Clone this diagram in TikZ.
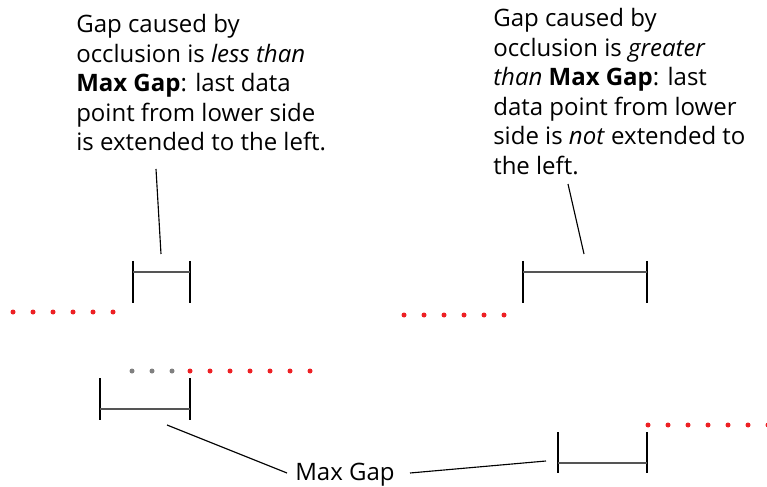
\documentclass[tikz,border=0pt]{standalone}
\usepackage{fontspec}
\setmainfont{Open Sans}
\usepackage{xcolor}
\definecolor{dotred}{RGB}{237,32,36}
\definecolor{dotgray}{RGB}{128,128,128}
\definecolor{bargray}{RGB}{85,85,85}
\usetikzlibrary{positioning}

\tikzset{
  labeltext/.style={font=\fontsize{17.07}{21}\selectfont, anchor=base west, inner sep=0pt},
  gaptick/.style={black, line width=0.9pt},
  gapbar/.style={bargray, line width=1.4pt},
  leader/.style={black, line width=0.8pt},
  reddot/.style={fill=dotred, draw=none},
  graydot/.style={fill=dotgray, draw=none}
}

\begin{document}
\begin{tikzpicture}
  \useasboundingbox (0,0) rectangle (19.175,12.15);

  % Left caption: gap smaller than Max Gap
  \node[labeltext] (lefta) at (1.9,11.325) {Gap caused by};
  \node[labeltext] (leftb) at (1.9,10.5875) {occlusion is \textit{less than}};
  \node[labeltext] (leftc) at (1.9,9.85) {\textbf{Max Gap}: last data};
  \node[labeltext] (leftd) at (1.9,9.1125) {point from lower side};
  \node[labeltext] (lefte) at (1.9,8.375) {is extended to the left.};

  % Right caption: gap greater than Max Gap
  \node[labeltext] (righta) at (12.325,11.475) {Gap caused by};
  \node[labeltext] (rightb) at (12.325,10.7375) {occlusion is \textit{greater}};
  \node[labeltext] (rightc) at (12.325,10.0) {\textit{than} \textbf{Max Gap}: last};
  \node[labeltext] (rightd) at (12.325,9.2625) {data point from lower};
  \node[labeltext] (righte) at (12.325,8.525) {side is \textit{not} extended to};
  \node[labeltext] (rightf) at (12.325,7.7875) {the left.};

  % Bottom label
  \node[labeltext] (maxgap) at (7.375,0.15) {Max Gap};

  % Occlusion gap, left (short)
  \draw[gaptick] (3.325,5.625) -- (3.325,4.575);
  \draw[gaptick] (4.75,5.625) -- (4.75,4.575);
  \draw[gapbar] (3.325,5.35) -- (4.75,5.35);

  % Max Gap, left
  \draw[gaptick] (2.5,2.7) -- (2.5,1.65);
  \draw[gaptick] (4.75,2.7) -- (4.75,1.65);
  \draw[gapbar] (2.5,1.925) -- (4.75,1.925);

  % Occlusion gap, right (long)
  \draw[gaptick] (13.075,5.625) -- (13.075,4.575);
  \draw[gaptick] (16.175,5.625) -- (16.175,4.575);
  \draw[gapbar] (13.075,5.35) -- (16.175,5.35);

  % Max Gap, right
  \draw[gaptick] (13.95,1.35) -- (13.95,0.325);
  \draw[gaptick] (16.175,1.35) -- (16.175,0.325);
  \draw[gapbar] (13.95,0.575) -- (16.175,0.575);

  % Data points
  \foreach \k in {0,...,5} \fill[reddot] (0.325+0.5*\k,4.35) circle (0.0625);
  \foreach \k in {0,...,2} \fill[graydot] (3.3+0.5*\k,2.875) circle (0.0625);
  \foreach \k in {0,...,6} \fill[reddot] (4.75+0.5*\k,2.875) circle (0.0625);
  \foreach \k in {0,...,5} \fill[reddot] (10.1+0.5*\k,4.275) circle (0.0625);
  \foreach \k in {0,...,6} \fill[reddot] (16.2+0.5*\k,1.525) circle (0.0625);

  % Leader lines
  \coordinate (lefttip) at (3.9,7.925);
  \coordinate (leftgap) at (4.025,5.8);
  \coordinate (righttip) at (14.2,7.55);
  \coordinate (rightgap) at (14.6,5.8);
  \coordinate (maxgapl) at (7.175,0.325);
  \coordinate (maxgapr) at (10.25,0.325);
  \coordinate (leftmax) at (4.175,1.525);
  \coordinate (rightmax) at (13.65,0.625);
  \draw[leader] (lefttip) -- (leftgap);
  \draw[leader] (righttip) -- (rightgap);
  \draw[leader] (leftmax) -- (maxgapl);
  \draw[leader] (maxgapr) -- (rightmax);
\end{tikzpicture}
\end{document}
